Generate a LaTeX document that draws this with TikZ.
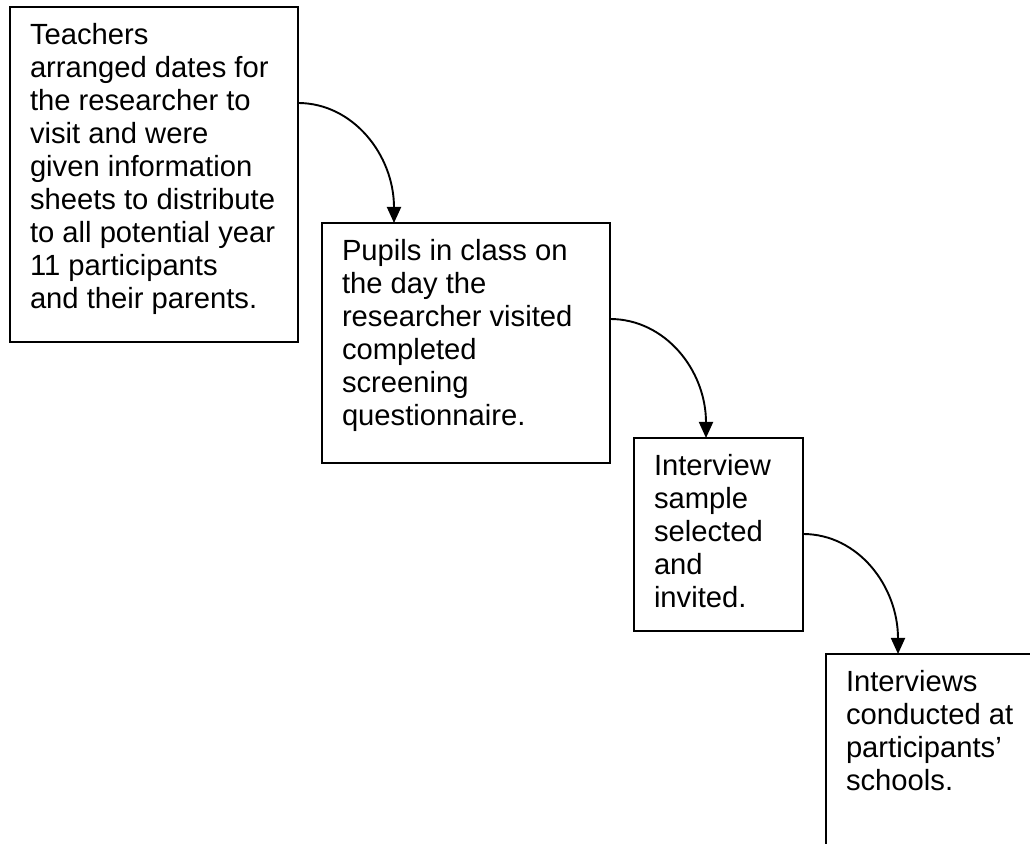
\documentclass[tikz,border=0pt]{standalone}
\usepackage{fontspec}
\setmainfont{Liberation Sans}
\usetikzlibrary{arrows.meta,calc}
\newcommand{\stagetext}[3]{\parbox[t][#1][t]{#2}{\raggedright\rule{0pt}{38pt}\ignorespaces#3}}
\begin{document}
\begin{tikzpicture}[x=1pt,y=1pt,
  stagebox/.style={draw, line width=1.7pt, anchor=north west, inner xsep=20pt, inner ysep=0pt, outer sep=0pt, font=\fontsize{29.2}{33}\selectfont},
  flow/.style={line width=1.9pt, -{Triangle[length=16pt,width=14pt]}}]
\useasboundingbox (0,0) rectangle (1030,843);
\node[stagebox] (b1) at (10,836) {\stagetext{335pt}{248pt}{Teachers\\arranged dates for\\the researcher to\\visit and were\\given information\\sheets to distribute\\to all potential year\\11 participants\\and their parents.}};
\node[stagebox] (b2) at (322,620) {\stagetext{240pt}{248pt}{Pupils in class on\\the day the\\researcher visited\\completed\\screening\\questionnaire.}};
\node[stagebox] (b3) at (634,405) {\stagetext{193pt}{129pt}{Interview\\sample\\selected\\and\\invited.}};
\node[stagebox] (b4) at (826,189) {\stagetext{260pt}{280pt}{Interviews\\conducted at\\participants’\\schools.}};
\draw[flow] ($(b1.north east)+(0,-96)$) .. controls +(55,0) and +(0,68) .. ($(b2.north west)+(72,0)$);
\draw[flow] ($(b2.north east)+(0,-96)$) .. controls +(55,0) and +(0,68) .. ($(b3.north west)+(72,0)$);
\draw[flow] ($(b3.north east)+(0,-96)$) .. controls +(55,0) and +(0,68) .. ($(b4.north west)+(72,0)$);
\end{tikzpicture}
\end{document}
